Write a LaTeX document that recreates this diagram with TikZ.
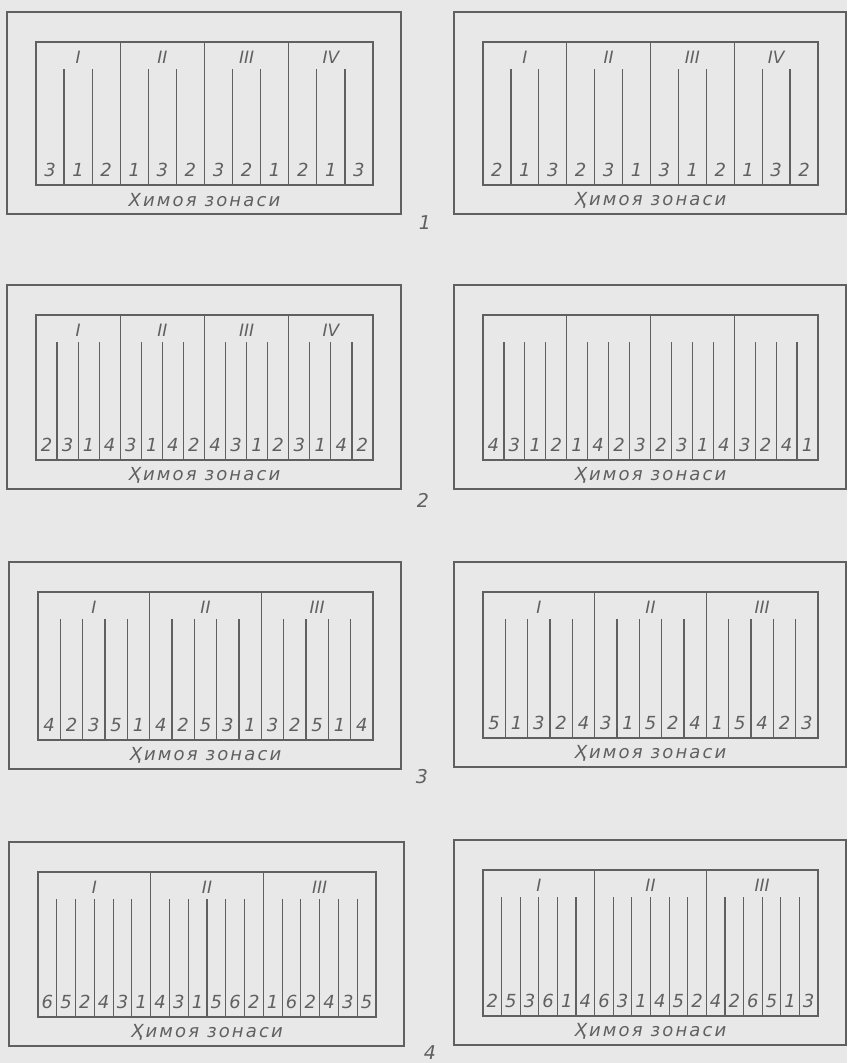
\documentclass[tikz,border=0pt]{standalone}
\usepackage{fontspec}
\setmainfont{DejaVu Sans}
\newfontfamily\gostwide[LetterSpace=12]{DejaVu Sans}
\definecolor{ink}{HTML}{606060}
\definecolor{paper}{HTML}{E8E8E8}

% one plot plan: #1 name, (#2,#3)-(#4,#5) inner box, #6 blocks, #7 strips per block,
% #8 variant numbers, #9 caption
\newcommand{\zonepanel}[9]{%
  \pgfmathsetmacro{\zx}{#2}\pgfmathsetmacro{\zy}{#3}%
  \pgfmathsetmacro{\zbw}{(#4-#2)/#6}%
  \pgfmathsetmacro{\zsw}{(#4-#2)/(#6*#7)}%
  \pgfmathtruncatemacro{\zlast}{#6*#7-1}%
  \draw[rule] (#2-29,#3-30) rectangle (#4+28,#5+29);
  \draw[rule] (#2,#3) rectangle (#4,#5);
  \foreach \i in {1,...,\zlast}{%
    \pgfmathtruncatemacro{\zm}{mod(\i,#7)}%
    \ifnum\zm=0
      \draw[rule] ({#2+\i*\zsw},#3) -- ({#2+\i*\zsw},#5);
    \else
      \draw[rule] ({#2+\i*\zsw},#3+27) -- ({#2+\i*\zsw},#5);
    \fi}
  \foreach \d [count=\i from 0] in {#8}
    \node[digit] (#1-d\i) at ({#2+(\i+0.5)*\zsw},#5-15) {\d};
  \node[caption] (#1-cap) at ({(#2+#4)/2},#5+15) {#9};
}
% block numbers of the last panel
\newcommand{\zoneroman}[2]{%
  \foreach \r [count=\i from 0] in {#2}
    \node[roman] (#1-r\i) at ({\zx+(\i+0.5)*\zbw},\zy+15) {\r};
}

\begin{document}
\begin{tikzpicture}[x=1pt,y=-1pt,
  rule/.style={draw=ink,line width=1.2pt},
  digit/.style={text=ink,inner sep=0pt,font=\fontsize{18}{18}\selectfont\itshape},
  roman/.style={text=ink,inner sep=0pt,font=\fontsize{17}{17}\selectfont\itshape},
  caption/.style={text=ink,inner sep=0pt,font=\fontsize{18}{18}\gostwide\itshape},
  rowno/.style={text=ink,inner sep=0pt,font=\fontsize{19}{19}\selectfont\itshape}]
  \fill[paper] (0,0) rectangle (847,1063);
  \useasboundingbox (0,0) rectangle (847,1063);

  % scheme 1
  \zonepanel{aL}{36}{42}{373}{185}{4}{3}{3,1,2,1,3,2,3,2,1,2,1,3}{Химоя зонаси}
  \zoneroman{aL}{I,II,III,IV}
  \zonepanel{aR}{483}{42}{818}{185}{4}{3}{2,1,3,2,3,1,3,1,2,1,3,2}{Ҳимоя зонаси}
  \zoneroman{aR}{I,II,III,IV}
  \node[rowno] (row1) at (425,223) {1};

  % scheme 2
  \zonepanel{bL}{36}{315}{373}{460}{4}{4}{2,3,1,4,3,1,4,2,4,3,1,2,3,1,4,2}{Ҳимоя зонаси}
  \zoneroman{bL}{I,II,III,IV}
  \zonepanel{bR}{483}{315}{818}{460}{4}{4}{4,3,1,2,1,4,2,3,2,3,1,4,3,2,4,1}{Ҳимоя зонаси}
  \node[rowno] (row2) at (423,500) {2};

  % scheme 3
  \zonepanel{cL}{38}{592}{373}{740}{3}{5}{4,2,3,5,1,4,2,5,3,1,3,2,5,1,4}{Ҳимоя зонаси}
  \zoneroman{cL}{I,II,III}
  \zonepanel{cR}{483}{592}{818}{738}{3}{5}{5,1,3,2,4,3,1,5,2,4,1,5,4,2,3}{Ҳимоя зонаси}
  \zoneroman{cR}{I,II,III}
  \node[rowno] (row3) at (422,777) {3};

  % scheme 4
  \zonepanel{dL}{38}{872}{376}{1017}{3}{6}{6,5,2,4,3,1,4,3,1,5,6,2,1,6,2,4,3,5}{Ҳимоя зонаси}
  \zoneroman{dL}{I,II,III}
  \zonepanel{dR}{483}{870}{818}{1016}{3}{6}{2,5,3,6,1,4,6,3,1,4,5,2,4,2,6,5,1,3}{Ҳимоя зонаси}
  \zoneroman{dR}{I,II,III}
  \node[rowno] (row4) at (430,1053) {4};
\end{tikzpicture}
\end{document}
